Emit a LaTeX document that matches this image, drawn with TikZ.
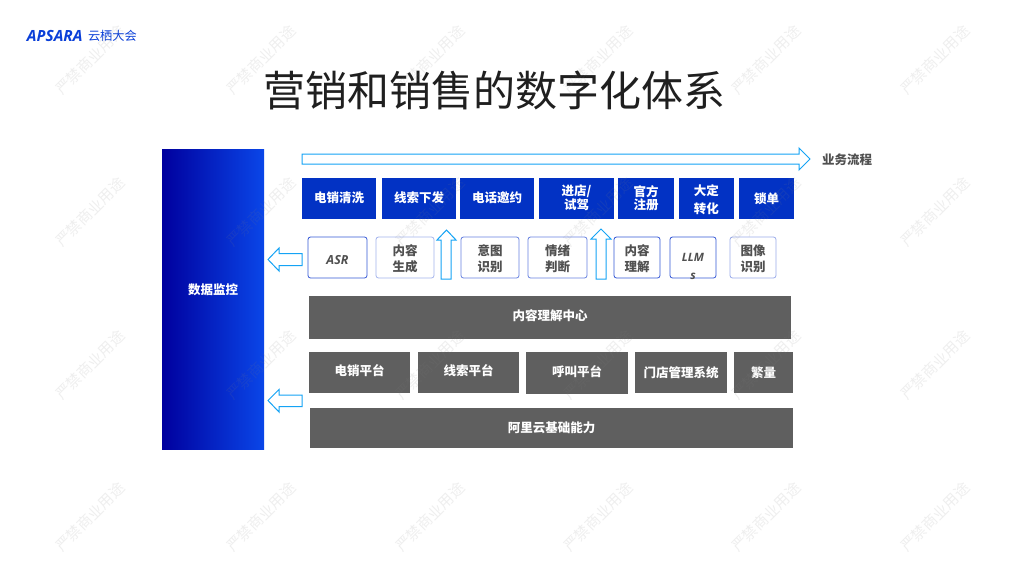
\documentclass[tikz,border=0pt]{standalone}
\usepackage{fontspec}
\setmainfont{Noto Sans CJK SC}
\newfontfamily\latinbi{Open Sans}
\definecolor{bluebox}{HTML}{0232C4}
\definecolor{grayblock}{HTML}{5F5F5F}
\definecolor{edgeblue}{HTML}{3558D6}
\definecolor{arrowblue}{HTML}{14A3F5}
\definecolor{txtgray}{HTML}{505050}
\definecolor{logoblue}{HTML}{0A3FD8}
\definecolor{gradleft}{HTML}{00009E}
\definecolor{gradright}{HTML}{0A46E8}
% name, x1, y1, x2, y2, box style, text style, text offset, text
\newcommand\bx[9]{%
  \pgfmathsetmacro\cxv{(#2+#4)/2}\pgfmathsetmacro\cyv{(#3+#5)/2}%
  \pgfmathsetmacro\wv{#4-#2}\pgfmathsetmacro\hv{#5-#3}%
  \pgfmathsetmacro\tyv{\cyv+#8}%
  \node[#6,minimum width=\wv pt,minimum height=\hv pt] (#1) at (\cxv,\cyv) {};
  \node[#7] (#1t) at (\cxv,\tyv) {#9};}
\tikzset{
  x=1pt,y=-1pt,
  every node/.style={inner sep=0pt,outer sep=0pt},
  lab/.style={font=\fontsize{12.5}{14}\selectfont\bfseries,align=center},
  lightlab/.style={lab,text=white},
  graylab/.style={lab,text=txtgray},
  twoline/.style={graylab,font=\fontsize{12.5}{16.5}\selectfont\bfseries},
  italiclab/.style={text=txtgray,align=center,font=\fontsize{12.5}{18}\latinbi\bfseries\itshape},
  flowbox/.style={fill=bluebox},
  ability/.style={draw=edgeblue,line width=0.8pt,rounded corners=2.5pt,fill=white},
  graybox/.style={fill=grayblock},
  blockarrow/.style={draw=arrowblue,line width=1pt,fill=white,line join=miter},
  wmark/.style={font=\fontsize{15}{16}\selectfont,text=gray,opacity=0.13,rotate=45},
}
\begin{document}
\begin{tikzpicture}
\useasboundingbox (0,0) rectangle (1024,576);
\fill[white] (0,0) rectangle (1024,576);

% logo
\node[anchor=west,text=logoblue,font=\fontsize{15.4}{16}\latinbi\bfseries\itshape] (logo) at (27,36) {APSARA};
\node[anchor=west,text=logoblue,font=\fontsize{12.2}{14}\selectfont] (logotxt) at (88,36) {云栖大会};

% title
\node[text=black!88,font=\fontsize{42}{44}\selectfont] (title) at (494,90) {营销和销售的数字化体系};

% left monitor column
\bx{monitor}{162}{149}{264}{449}{left color=gradleft,right color=gradright}{lightlab}{-9.5}{数据监控}

% top process arrow
\draw[blockarrow] (302,154) -- (799,154) -- (799,148) -- (810,159) -- (799,170) -- (799,164) -- (302,164) -- cycle;
\node[anchor=west,graylab] (flow) at (822,159.5) {业务流程};

% process row
\bx{a1}{302}{178}{376}{219}{flowbox}{lightlab}{-1}{电销清洗}
\bx{a2}{382}{178}{456}{219}{flowbox}{lightlab}{-1}{线索下发}
\bx{a3}{460}{178}{534}{219}{flowbox}{lightlab}{-1}{电话邀约}
\bx{a4}{539}{178}{614}{219}{flowbox}{lightlab,font=\fontsize{12.5}{12}\selectfont\bfseries}{-1}{进店/\\试驾}
\bx{a5}{618}{178}{674}{219}{flowbox}{lightlab,font=\fontsize{12.5}{11}\selectfont\bfseries}{0}{官方\\注册}
\bx{a6}{678.5}{178}{734}{219}{flowbox}{lightlab,font=\fontsize{12.5}{18}\selectfont\bfseries}{1}{大定\\转化}
\bx{a7}{739}{178}{794}{219}{flowbox}{lightlab}{0}{锁单}

% capability row
\bx{b1}{308}{237}{367}{278}{ability}{italiclab}{2.5}{ASR}
\bx{b2}{376}{237}{434}{278}{ability,draw=edgeblue!45}{twoline}{1.2}{内容\\生成}
\bx{b3}{461}{237}{519}{278}{ability,draw=edgeblue!75}{twoline}{1.2}{意图\\识别}
\bx{b4}{528}{237}{587}{278}{ability,draw=edgeblue!75}{twoline}{1.2}{情绪\\判断}
\bx{b5}{614}{237}{660}{278}{ability}{twoline}{1.2}{内容\\理解}
\bx{b6}{670}{237}{716}{278}{ability}{italiclab,font=\fontsize{11.5}{18}\latinbi\bfseries\itshape}{9}{LLM\\s}
\bx{b7}{730}{237}{776}{278}{ability,draw=edgeblue!50}{twoline}{1.2}{图像\\识别}

% up arrows
\draw[blockarrow] (441,279) -- (441,240) -- (437,240) -- (446.5,230) -- (456,240) -- (451,240) -- (451,279) -- cycle;
\draw[blockarrow] (596,279) -- (596,239) -- (591,239) -- (601,229) -- (611,239) -- (606,239) -- (606,279) -- cycle;

% left arrows
\draw[blockarrow] (302,253.5) -- (279,253.5) -- (279,248) -- (268,259.5) -- (279,271) -- (279,265.5) -- (302,265.5) -- cycle;
\draw[blockarrow] (302,395) -- (279,395) -- (279,389.5) -- (268,400.5) -- (279,412) -- (279,406.5) -- (302,406.5) -- cycle;

% platform layers
\bx{c0}{309}{296}{791}{339}{graybox}{lightlab}{-1.5}{内容理解中心}
\bx{c1}{309}{352}{410}{393}{graybox}{lightlab}{-1.5}{电销平台}
\bx{c2}{418}{352}{519}{393}{graybox}{lightlab}{-1.5}{线索平台}
\bx{c3}{526}{352}{628}{394}{graybox}{lightlab}{-1.5}{呼叫平台}
\bx{c4}{635}{352}{727}{393}{graybox}{lightlab}{0}{门店管理系统}
\bx{c5}{734}{352}{793}{393}{graybox}{lightlab}{0.5}{繁量}
\bx{c6}{310}{408}{793}{448}{graybox}{lightlab}{0}{阿里云基础能力}

% watermark
\foreach \wx in {90,261,430,598,766,935}
  \foreach \wy in {60,212,365,517}
    \node[wmark] at (\wx,\wy) {严禁商业用途};
\end{tikzpicture}
\end{document}
